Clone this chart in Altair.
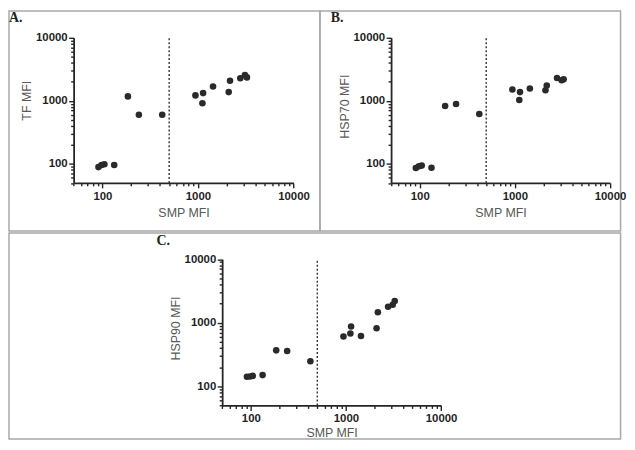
import altair as alt
import pandas as pd

# ---- data ----
smp_mfi = [91, 98, 105, 133, 185, 241, 423, 942, 1133, 1114, 1439, 2099, 2166, 2775, 3104, 3257]
tf_mfi = [89, 96, 99, 96, 1175, 601, 601, 1218, 1324, 914, 1683, 1374, 2083, 2271, 2558, 2350]
hsp70_mfi = [86, 92, 94, 87, 830, 893, 617, 1510, 1374, 1030, 1566, 1474, 1745, 2298, 2113, 2188]
hsp90_mfi = [141, 143, 146, 150, 368, 359, 248, 608, 871, 678, 617, 820, 1459, 1786, 1919, 2188]
cutoff = [500]
panel_labels = ["A.", "B.", "C."]
y_titles = ["TF MFI", "HSP70 MFI", "HSP90 MFI"]
x_title = "SMP MFI"
axis_domain = [50, 10000]
major_ticks = [100, 1000, 10000]
minor_ticks = [50, 60, 70, 80, 90, 200, 300, 400, 500, 600, 700, 800, 900,
               2000, 3000, 4000, 5000, 6000, 7000, 8000, 9000]
tick_values = sorted(major_ticks + minor_ticks)

MAJOR_TEST = "datum.value == 100 || datum.value == 1000 || datum.value == 10000"
LABEL_FONT = "Liberation Sans"
TITLE_FONT = "Liberation Sans Narrow, Arial Narrow, Liberation Sans, sans-serif"
INK = "#262626"


def make_axis(title, offset, is_x, title_y=None, label_pad=3, title_pad=4):
    extra = {}
    if title_y is not None:
        extra["titleY"] = title_y
    return alt.Axis(
        title=title,
        values=tick_values,
        labelExpr=f"({MAJOR_TEST}) ? format(datum.value, 'd') : ''",
        tickSize={"condition": {"test": MAJOR_TEST, "value": 5}, "value": 3},
        tickWidth=1.4,
        tickColor=INK,
        domainColor=INK,
        domainWidth=1.8,
        grid=False,
        labelFont=LABEL_FONT,
        labelFontWeight="bold",
        labelFontSize=11.5,
        labelColor="#1f1f1f",
        labelPadding=label_pad if is_x else 1.5,
        labelOverlap=False,
        labelFlush=False,
        titleFont=TITLE_FONT,
        titleFontWeight="normal",
        titleFontSize=12.5,
        titleColor="#595959",
        titlePadding=title_pad if is_x else 2,
        offset=offset,
        **extra,
    )


def panel(yvals, ytitle, label, cell_w, cell_h, xr, yr, label_pos, title_y,
          label_pad=3, title_pad=4):
    sx = alt.Scale(type="log", domain=axis_domain, range=xr, nice=False)
    sy = alt.Scale(type="log", domain=axis_domain, range=yr, nice=False)
    ax_x = make_axis(x_title, -(cell_h - yr[0]), True, None, label_pad, title_pad)
    ax_y = make_axis(ytitle, -xr[0], False, title_y)

    pts = pd.DataFrame({"smp": smp_mfi, "val": yvals})
    rule_df = pd.DataFrame({"smp": cutoff, "lo": [axis_domain[0]], "hi": [axis_domain[1]]})
    lab_df = pd.DataFrame({"label": [label]})

    points = alt.Chart(pts).mark_circle(size=44, color="#2a2a2a", opacity=1).encode(
        x=alt.X("smp:Q", scale=sx, axis=ax_x),
        y=alt.Y("val:Q", scale=sy, axis=ax_y),
    )
    rule = alt.Chart(rule_df).mark_rule(strokeDash=[2, 2], color="#333333", strokeWidth=1.4).encode(
        x=alt.X("smp:Q", scale=sx, axis=ax_x),
        y=alt.Y("lo:Q", scale=sy, axis=ax_y),
        y2="hi:Q",
    )
    text = alt.Chart(lab_df).mark_text(
        font="Liberation Serif", fontWeight="bold", fontSize=14, align="left",
        baseline="alphabetic", color="#222222",
    ).encode(x=alt.value(label_pos[0]), y=alt.value(label_pos[1]), text="label:N")

    return alt.layer(rule, points, text).properties(width=cell_w, height=cell_h)


pa = panel(tf_mfi, y_titles[0], panel_labels[0], 314, 222,
           [65.25, 287.25], [173.5, 26.9], (0, 10.8), 90)
pb = panel(hsp70_mfi, y_titles[1], panel_labels[1], 303.5, 222,
           [71.8, 292.8], [173.5, 26.9], (11, 10.8), 96)
pc = panel(hsp90_mfi, y_titles[2], panel_labels[2], 617.5, 208,
           [215.25, 436.25], [174.2, 26.5], (149, 12.5), 96,
           label_pad=2.5, title_pad=2)

top = alt.hconcat(pa, pb, spacing=0, bounds="flush")
chart = alt.vconcat(top, pc, spacing=0).properties(padding=0).configure_view(
    stroke="#a8a8a8", strokeWidth=1.5
)

chart.save("out.html", embed_options={"renderer": "svg", "actions": False})
